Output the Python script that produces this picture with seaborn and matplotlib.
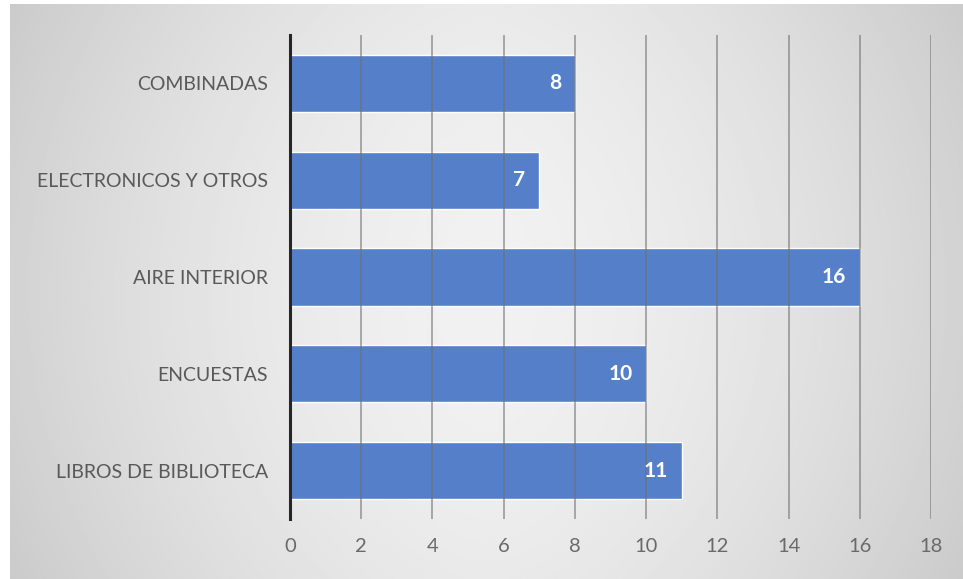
import numpy as np
import matplotlib
matplotlib.use("Agg")
import matplotlib.pyplot as plt
import seaborn as sns
import pandas as pd

categories = ["COMBINADAS", "ELECTRONICOS Y OTROS", "AIRE INTERIOR",
              "ENCUESTAS", "LIBROS DE BIBLIOTECA"]
counts = [8, 7, 16, 10, 11]
x_ticks = [0, 2, 4, 6, 8, 10, 12, 14, 16, 18]

sns.set_theme(style="white")
plt.rcParams["font.family"] = ["Lato", "DejaVu Sans"]

W, H = 963, 579
fig = plt.figure(figsize=(W / 100, H / 100), dpi=100)
fig.patch.set_facecolor("white")

# soft gray panel behind the chart
bg = fig.add_axes([10 / W, 0, 1 - 10 / W, 1 - 4 / H], zorder=-5)
gx = np.linspace(-1, 1, 400)
gy = np.linspace(-1, 1, 240)
XX, YY = np.meshgrid(gx, gy)
shade = 0.945 - 0.12 * np.abs(XX) ** 1.6 - 0.03 * np.abs(YY) ** 2
bg.imshow(shade, cmap="gray", vmin=0, vmax=1, aspect="auto",
          extent=[0, 1, 0, 1], interpolation="bilinear")
bg.set_axis_off()

df = pd.DataFrame({"categoria": categories, "total": counts})

ax = fig.add_axes([290 / W, 1 - 519 / H, (931 - 290) / W, (519 - 35) / H])
ax.patch.set_alpha(0)
sns.barplot(data=df, x="total", y="categoria", orient="h", color="#5580c9",
            saturation=1, width=0.59, ax=ax, zorder=2)

ax.set_xlim(0, 18)
ax.set_ylim(4.5, -0.5)
ax.set_xticks(x_ticks)
ax.set_xlabel("")
ax.set_ylabel("")

for x in x_ticks[1:]:
    ax.axvline(x, color="#6e6e6e", lw=1.1, alpha=0.7, zorder=3)

for s in ["top", "right", "bottom"]:
    ax.spines[s].set_visible(False)
ax.spines["left"].set_color("#262626")
ax.spines["left"].set_linewidth(2.2)
ax.spines["left"].set_zorder(4)

ax.tick_params(axis="y", length=0, pad=16, labelsize=14, labelcolor="#595959")
ax.tick_params(axis="x", length=0, pad=14, labelsize=14.5, labelcolor="#6a6a6a")

for i, v in enumerate(counts):
    ax.annotate(str(v), xy=(v, i), xytext=(-10, 0), textcoords="offset points",
                ha="right", va="center", color="white", fontsize=15,
                fontweight="bold", zorder=5)

fig.savefig("out.png", dpi=100)
